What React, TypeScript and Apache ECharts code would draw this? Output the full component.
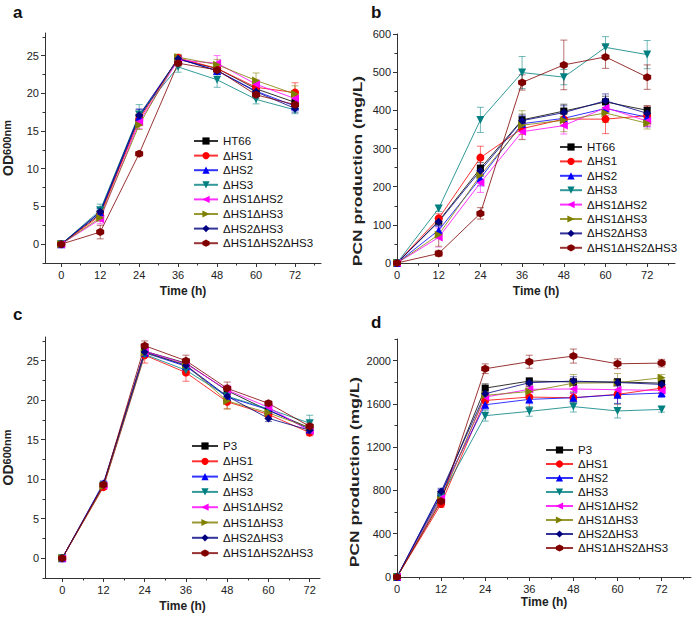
import React, { useEffect, useRef } from "react";
import * as echarts from "echarts";

// ---------- data ----------
const times = [0, 12, 24, 36, 48, 60, 72];
const namesHT66 = ["HT66", "ΔHS1", "ΔHS2", "ΔHS3", "ΔHS1ΔHS2", "ΔHS1ΔHS3", "ΔHS2ΔHS3", "ΔHS1ΔHS2ΔHS3"];
const namesP3 = ["P3", "ΔHS1", "ΔHS2", "ΔHS3", "ΔHS1ΔHS2", "ΔHS1ΔHS3", "ΔHS2ΔHS3", "ΔHS1ΔHS2ΔHS3"];

// panel a: OD600 (HT66 background)
const odHT66Mean: number[][] = [
  [0, 4.0, 16.8, 24.5, 23.3, 20.6, 18.8],
  [0, 3.8, 16.5, 24.7, 23.3, 20.8, 20.1],
  [0, 4.2, 16.9, 24.6, 23.0, 20.3, 18.3],
  [0, 4.5, 17.2, 23.5, 21.8, 19.2, 17.8],
  [0, 3.3, 16.2, 24.4, 24.0, 21.2, 19.3],
  [0, 3.5, 15.8, 24.8, 23.8, 21.7, 19.9],
  [0, 4.3, 17.1, 24.6, 23.0, 20.2, 18.0],
  [0, 1.6, 12.0, 24.0, 23.1, 19.8, 18.5],
];
const odHT66Err: number[][] = [
  [0, 0.5, 0.8, 0.4, 0.5, 0.6, 0.6],
  [0, 0.5, 0.8, 0.4, 0.6, 0.7, 1.3],
  [0, 0.5, 1.0, 0.4, 0.5, 0.6, 0.6],
  [0, 0.8, 1.3, 0.7, 1.0, 0.6, 0.5],
  [0, 0.6, 0.9, 0.4, 1.0, 0.6, 0.6],
  [0, 0.5, 0.6, 0.4, 0.7, 1.0, 1.1],
  [0, 0.5, 0.8, 0.4, 0.5, 0.5, 0.5],
  [0, 0.9, 0.3, 0.4, 0.4, 0.5, 0.6],
];

// panel b: PCN production (HT66 background)
const pcnHT66Mean: number[][] = [
  [0, 110, 248, 375, 398, 422, 400],
  [0, 117, 276, 352, 377, 377, 386],
  [0, 86, 222, 365, 379, 405, 382],
  [0, 143, 375, 499, 487, 565, 546],
  [0, 67, 210, 344, 360, 407, 372],
  [0, 74, 230, 361, 374, 393, 366],
  [0, 108, 242, 373, 394, 425, 392],
  [0, 25, 130, 473, 519, 540, 487],
];
const pcnHT66Err: number[][] = [
  [0, 10, 15, 15, 18, 15, 12],
  [0, 12, 30, 15, 15, 38, 25],
  [0, 10, 20, 20, 20, 25, 25],
  [0, 8, 33, 42, 20, 28, 37],
  [0, 25, 25, 20, 22, 20, 15],
  [0, 30, 20, 38, 30, 25, 15],
  [0, 10, 15, 12, 18, 18, 15],
  [0, 8, 15, 20, 65, 30, 32],
];

// panel c: OD600 (P3 background)
const odP3Mean: number[][] = [
  [0, 9.2, 26.2, 24.7, 21.2, 18.7, 16.5],
  [0, 9.0, 25.7, 23.5, 19.8, 18.2, 15.9],
  [0, 9.5, 26.0, 24.3, 20.4, 18.8, 16.3],
  [0, 9.2, 25.8, 23.8, 20.5, 18.9, 17.1],
  [0, 9.2, 26.2, 24.6, 21.3, 19.1, 16.1],
  [0, 9.1, 26.0, 24.5, 19.9, 18.4, 16.5],
  [0, 9.4, 26.1, 24.4, 20.5, 17.7, 16.2],
  [0, 9.3, 26.9, 25.0, 21.5, 19.6, 16.7],
];
const odP3Err: number[][] = [
  [0, 0.3, 0.4, 0.5, 0.5, 0.4, 0.4],
  [0, 0.3, 1.0, 1.1, 0.9, 0.5, 0.4],
  [0, 0.3, 0.4, 0.5, 0.5, 0.4, 0.4],
  [0, 0.3, 0.4, 0.5, 0.5, 0.4, 1.0],
  [0, 0.3, 0.4, 0.5, 0.6, 0.4, 0.4],
  [0, 0.3, 0.4, 0.5, 1.0, 0.5, 0.4],
  [0, 0.3, 0.4, 0.5, 0.5, 0.4, 0.4],
  [0, 0.3, 0.6, 0.7, 0.8, 0.3, 0.4],
];

// panel d: PCN production (P3 background)
const pcnP3Mean: number[][] = [
  [0, 760, 1746, 1811, 1803, 1803, 1792],
  [0, 675, 1632, 1663, 1657, 1688, 1746],
  [0, 780, 1592, 1642, 1657, 1685, 1700],
  [0, 740, 1491, 1531, 1575, 1535, 1549],
  [0, 730, 1663, 1735, 1738, 1731, 1725],
  [0, 715, 1679, 1715, 1792, 1796, 1842],
  [0, 790, 1694, 1796, 1811, 1798, 1780],
  [0, 700, 1925, 1990, 2042, 1971, 1977],
];
const pcnP3Err: number[][] = [
  [0, 30, 40, 30, 30, 30, 25],
  [0, 30, 50, 100, 40, 90, 40],
  [0, 30, 40, 40, 50, 80, 40],
  [0, 30, 50, 45, 50, 65, 25],
  [0, 30, 40, 30, 40, 40, 30],
  [0, 30, 40, 40, 80, 85, 30],
  [0, 30, 40, 30, 40, 30, 25],
  [0, 30, 45, 60, 65, 45, 35],
];

const timeTicks = [0, 12, 24, 36, 48, 60, 72];
const timeMinorTicks = [6, 18, 30, 42, 54, 66, 78];
const odTicks = [0, 5, 10, 15, 20, 25];
const odMinorTicks = [-2.5, 2.5, 7.5, 12.5, 17.5, 22.5, 27.5];
const pcnHT66Ticks = [0, 100, 200, 300, 400, 500, 600];
const pcnHT66MinorTicks = [50, 150, 250, 350, 450, 550];
const pcnP3Ticks = [0, 400, 800, 1200, 1600, 2000];
const pcnP3MinorTicks = [200, 600, 1000, 1400, 1800, 2200];

// ---------- styles ----------
const colors = ["#000000", "#FF0000", "#0000FF", "#008080", "#FF00FF", "#808000", "#000080", "#800000"];
const hexagon = "path://M0,-10 L8.66,-5 L8.66,5 L0,10 L-8.66,5 L-8.66,-5 Z";
const symbols = ["rect", "circle", "triangle", "triangle", "triangle", "triangle", "diamond", hexagon];
const symbolRot = [0, 0, 0, 180, 90, -90, 0, 0];
const symbolSizes = [7, 8, 8, 8, 8, 8, 8, 8];
const FONT = "Liberation Sans, Arial, sans-serif";
const AX = "#333";

type Panel = {
  grid: { left: number; top: number; width: number; height: number };
  xMin: number; xMax: number; yMin: number; yMax: number;
  yTicks: number[]; yMinor: number[];
  yName: string; yNameGap: number;
  xNameGap: number;
  names: string[]; means: number[][]; errs: number[][];
  legend: { left: number; top: number; gap: number; iw: number };
  capW: number;
};

const panels: Panel[] = [
  {
    grid: { left: 43, top: 33, width: 278, height: 230 },
    xMin: -5, xMax: 80, yMin: -2.5, yMax: 28, yTicks: odTicks, yMinor: odMinorTicks,
    yName: "{a|OD}{b|600nm}", yNameGap: 22, xNameGap: 22,
    names: namesHT66, means: odHT66Mean, errs: odHT66Err,
    legend: { left: 193, top: 135, gap: 2.6, iw: 24 }, capW: 3.5,
  },
  {
    grid: { left: 397, top: 34, width: 278, height: 229 },
    xMin: 0, xMax: 80, yMin: 0, yMax: 600, yTicks: pcnHT66Ticks, yMinor: pcnHT66MinorTicks,
    yName: "", yNameGap: 32, xNameGap: 22,
    names: namesHT66, means: pcnHT66Mean, errs: pcnHT66Err,
    legend: { left: 559, top: 141, gap: 2.4, iw: 22 }, capW: 3.5,
  },
  {
    grid: { left: 42, top: 337, width: 278, height: 241 },
    xMin: -5, xMax: 75, yMin: -2.5, yMax: 28, yTicks: odTicks, yMinor: odMinorTicks,
    yName: "{a|OD}{b|600nm}", yNameGap: 22, xNameGap: 22,
    names: namesP3, means: odP3Mean, errs: odP3Err,
    legend: { left: 191, top: 440, gap: 3.3, iw: 26 }, capW: 3.5,
  },
  {
    grid: { left: 397, top: 339, width: 294, height: 238 },
    xMin: 0, xMax: 80, yMin: 0, yMax: 2200, yTicks: pcnP3Ticks, yMinor: pcnP3MinorTicks,
    yName: "", yNameGap: 34, xNameGap: 19,
    names: namesP3, means: pcnP3Mean, errs: pcnP3Err,
    legend: { left: 545, top: 444, gap: 2, iw: 27 }, capW: 3.5,
  },
];

const panelLetters = [
  { t: "a", x: 13, y: 4 },
  { t: "b", x: 371, y: 4 },
  { t: "c", x: 13, y: 306 },
  { t: "d", x: 371, y: 314 },
];

// stretched vertical titles of the PCN panels (the source image shows them elongated)
const pcnTitles = [
  { x: 358, y: 171 },
  { x: 355, y: 472 },
];

function buildOption() {
  const grids: any[] = [];
  const xAxes: any[] = [];
  const yAxes: any[] = [];
  const series: any[] = [];
  const legends: any[] = [];
  const fmt = (v: number) => String(v);

  panels.forEach((p, pi) => {
    grids.push({ ...p.grid, containLabel: false });
    const nameStyle = { fontFamily: FONT, fontSize: 12, fontWeight: "bold", color: "#222" };
    xAxes.push({
      type: "value", gridIndex: pi, min: p.xMin, max: p.xMax, position: "bottom",
      axisLine: { show: true, onZero: false, lineStyle: { color: AX, width: 1 } },
      axisTick: { show: true, customValues: timeTicks, length: 4, lineStyle: { color: AX } },
      axisLabel: { customValues: timeTicks, formatter: fmt, fontFamily: FONT, fontSize: 11, color: "#222", margin: 6 },
      splitLine: { show: false },
      name: "Time (h)", nameLocation: "middle", nameGap: p.xNameGap, nameTextStyle: nameStyle,
    });
    xAxes.push({
      type: "value", gridIndex: pi, min: p.xMin, max: p.xMax, position: "bottom",
      axisLine: { show: false, onZero: false },
      axisTick: { show: true, customValues: timeMinorTicks, length: 2.5, lineStyle: { color: AX } },
      axisLabel: { show: false }, splitLine: { show: false },
    });
    yAxes.push({
      type: "value", gridIndex: pi, min: p.yMin, max: p.yMax, position: "left",
      axisLine: { show: true, onZero: false, lineStyle: { color: AX, width: 1 } },
      axisTick: { show: true, customValues: p.yTicks, length: 4, lineStyle: { color: AX } },
      axisLabel: { customValues: p.yTicks, formatter: fmt, fontFamily: FONT, fontSize: 11, color: "#222", margin: 6 },
      splitLine: { show: false },
      name: p.yName, nameLocation: "middle", nameGap: p.yNameGap, nameRotate: 90,
      nameTextStyle: {
        ...nameStyle,
        rich: {
          a: { fontFamily: FONT, fontSize: 14, fontWeight: "bold", color: "#222", lineHeight: 16, verticalAlign: "top" },
          b: { fontFamily: FONT, fontSize: 11, fontWeight: "bold", color: "#222", lineHeight: 22, verticalAlign: "top" },
        },
      },
    });
    yAxes.push({
      type: "value", gridIndex: pi, min: p.yMin, max: p.yMax, position: "left",
      axisLine: { show: false, onZero: false },
      axisTick: { show: true, customValues: p.yMinor, length: 2.5, lineStyle: { color: AX } },
      axisLabel: { show: false }, splitLine: { show: false },
    });

    p.names.forEach((name, si) => {
      const color = colors[si];
      const errData = times.map((t, i) => [t, p.means[si][i] - p.errs[si][i], p.means[si][i] + p.errs[si][i]]);
      const cw = p.capW;
      series.push({
        type: "custom", name: name + " err " + pi, xAxisIndex: pi * 2, yAxisIndex: pi * 2,
        data: errData, silent: true, z: 1, clip: false,
        encode: { x: 0, y: [1, 2] },
        renderItem: (_params: any, api: any) => {
          const x = api.value(0);
          const lo = api.coord([x, api.value(1)]);
          const hi = api.coord([x, api.value(2)]);
          const st = { stroke: color, lineWidth: 1, opacity: 0.55 };
          return {
            type: "group",
            children: [
              { type: "line", shape: { x1: lo[0], y1: lo[1], x2: hi[0], y2: hi[1] }, style: st },
              { type: "line", shape: { x1: lo[0] - cw, y1: lo[1], x2: lo[0] + cw, y2: lo[1] }, style: st },
              { type: "line", shape: { x1: hi[0] - cw, y1: hi[1], x2: hi[0] + cw, y2: hi[1] }, style: st },
            ],
          };
        },
      });
      series.push({
        type: "line", name, xAxisIndex: pi * 2, yAxisIndex: pi * 2,
        data: times.map((t, i) => [t, p.means[si][i]]),
        symbol: symbols[si], symbolSize: symbolSizes[si], symbolRotate: symbolRot[si], showAllSymbol: true,
        lineStyle: { color, width: 1, opacity: 0.8 }, itemStyle: { color },
        z: 2, clip: false,
      });
    });

    legends.push({
      data: p.names, orient: "vertical", left: p.legend.left, top: p.legend.top,
      itemWidth: p.legend.iw, itemHeight: 9, itemGap: p.legend.gap, padding: 0,
      textStyle: { fontFamily: FONT, fontSize: 11.5, color: "#111", lineHeight: 12 },
      selectedMode: false,
    });
  });

  const graphics: any[] = panelLetters.map((l) => ({
    type: "text", left: l.x, top: l.y,
    style: { text: l.t, fontFamily: FONT, fontSize: 17, fontWeight: "bold", fill: "#111" },
  }));
  pcnTitles.forEach((t) => {
    graphics.push({
      type: "text", x: t.x, y: t.y, rotation: Math.PI / 2, scaleX: 1.45,
      style: {
        text: "PCN production (mg/L)", fontFamily: FONT, fontSize: 12, fontWeight: "bold", fill: "#222",
        align: "center", verticalAlign: "middle",
      },
    });
  });

  return {
    animation: false,
    backgroundColor: "#ffffff",
    grid: grids,
    xAxis: xAxes,
    yAxis: yAxes,
    legend: legends,
    series,
    graphic: graphics,
  };
}

export default function App() {
  const ref = useRef<HTMLDivElement>(null);
  useEffect(() => {
    if (!ref.current) return;
    const chart = echarts.init(ref.current, undefined, { renderer: "svg" });
    chart.setOption(buildOption() as any);
    return () => chart.dispose();
  }, []);
  return (
    <div
      ref={ref}
      style={{ position: "fixed", left: 0, top: 0, width: 697, height: 618, background: "#fff" }}
    />
  );
}
